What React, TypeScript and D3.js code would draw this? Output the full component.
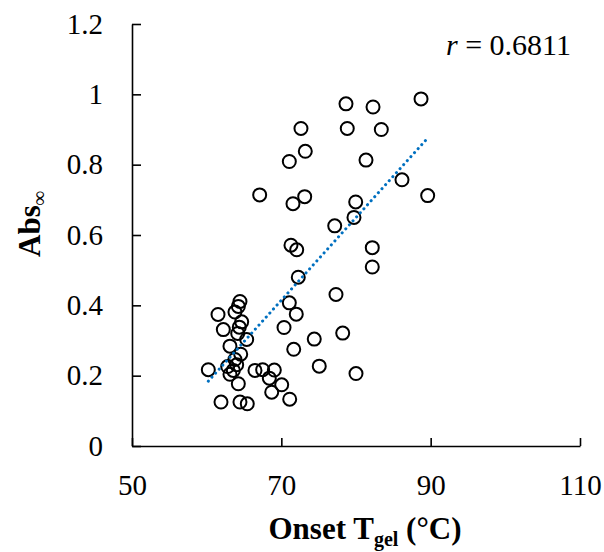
import React, { useEffect, useRef } from "react";
import * as d3 from "d3";

// onset gelation temperature (°C) and Abs∞
const onsetT = [
  78.66, 82.28, 88.71, 72.63, 78.83, 83.39, 73.21, 71.07, 81.34, 86.16,
  73.13, 71.56, 79.96, 89.6, 67.1, 79.73, 77.15, 71.29, 72.06, 82.18,
  82.18, 72.27, 77.32, 71.07, 72.0, 70.36, 78.22, 74.41, 71.66, 75.08,
  80.0, 69.06, 70.05, 68.71, 71.12, 68.39, 64.46, 64.24, 63.79, 61.52,
  64.69, 64.37, 62.23, 64.16, 65.36, 63.12, 64.56, 63.79, 64.02, 60.22,
  62.82, 63.57, 63.12, 66.47, 67.5, 64.24, 61.92, 64.46, 65.44,
];
const absInf = [
  0.973, 0.964, 0.987, 0.903, 0.903, 0.9, 0.838, 0.809, 0.813, 0.757,
  0.709, 0.689, 0.694, 0.712, 0.714, 0.65, 0.626, 0.571, 0.558, 0.564,
  0.509, 0.48, 0.431, 0.407, 0.375, 0.337, 0.321, 0.304, 0.275, 0.227,
  0.206, 0.216, 0.174, 0.153, 0.133, 0.193, 0.411, 0.397, 0.381, 0.374,
  0.353, 0.338, 0.331, 0.32, 0.303, 0.284, 0.261, 0.246, 0.231, 0.217,
  0.226, 0.215, 0.204, 0.215, 0.217, 0.177, 0.125, 0.125, 0.12,
];
const xTicks = [50, 70, 90, 110];
const yTicks = [0, 0.2, 0.4, 0.6, 0.8, 1, 1.2];
const rLabel = "0.6811";

const W = 604;
const H = 552;
const margin = { left: 132, right: 24, top: 24, bottom: 106 };
const font = "'Liberation Serif', 'Times New Roman', serif";

export default function App() {
  const xAxisRef = useRef<SVGGElement>(null);
  const yAxisRef = useRef<SVGGElement>(null);

  const x = d3.scaleLinear().domain([50, 110]).range([margin.left, W - margin.right]);
  const y = d3.scaleLinear().domain([0, 1.2]).range([H - margin.bottom, margin.top]);

  // linear trendline over the data range
  const mx = d3.mean(onsetT)!;
  const my = d3.mean(absInf)!;
  const slope =
    d3.sum(onsetT, (v, i) => (v - mx) * (absInf[i] - my)) /
    d3.sum(onsetT, (v) => (v - mx) * (v - mx));
  const icpt = my - slope * mx;
  const [x0, x1] = d3.extent(onsetT) as [number, number];
  const trend = d3
    .line<number>()
    .x((d) => x(d))
    .y((d) => y(icpt + slope * d))([x0, x1]);

  useEffect(() => {
    const xa = d3.select(xAxisRef.current!);
    xa.call(
      d3.axisBottom(x).tickValues(xTicks).tickSizeInner(-8).tickSizeOuter(0).tickPadding(28)
    );
    const ya = d3.select(yAxisRef.current!);
    ya.call(
      d3
        .axisLeft(y)
        .tickValues(yTicks)
        .tickFormat((d) => String(+d))
        .tickSizeInner(-9)
        .tickSizeOuter(0)
        .tickPadding(29)
    );
    [xa, ya].forEach((g) => {
      g.attr("font-family", font).attr("font-size", 29);
      g.selectAll("path,line").attr("stroke", "#000").attr("stroke-width", 1.6);
      g.selectAll("text").attr("fill", "#000");
    });
  }, []);

  return (
    <svg
      width={W}
      height={H}
      style={{ position: "absolute", left: 0, top: 0, background: "#fff" }}
    >
      <g>
        {onsetT.map((t, i) => (
          <circle
            key={i}
            cx={x(t)}
            cy={y(absInf[i])}
            r={6.5}
            fill="none"
            stroke="#000"
            strokeWidth={2}
          />
        ))}
      </g>
      <path
        d={trend ?? ""}
        fill="none"
        stroke="#0070C0"
        strokeWidth={3}
        strokeLinecap="round"
        strokeDasharray="0.1 5.3"
      />
      <g ref={xAxisRef} transform={`translate(0,${H - margin.bottom})`} />
      <g ref={yAxisRef} transform={`translate(${margin.left},0)`} />
      <text x={571} y={55} fontFamily={font} fontSize={30} textAnchor="end" fill="#000">
        <tspan fontStyle="italic">r</tspan> = {rLabel}
      </text>
      <text x={365} y={539} fontFamily={font} fontSize={31} fontWeight="bold" textAnchor="middle" fill="#000">
        Onset T
        <tspan fontSize={20} dy={7}>gel</tspan>
        <tspan dy={-7}> (°C)</tspan>
      </text>
      <text
        transform="translate(40,224) rotate(-90)"
        fontFamily={font}
        fontSize={31}
        fontWeight="bold"
        textAnchor="middle"
        fill="#000"
      >
        Abs
        <tspan fontSize={20} dy={6}>∞</tspan>
      </text>
    </svg>
  );
}
